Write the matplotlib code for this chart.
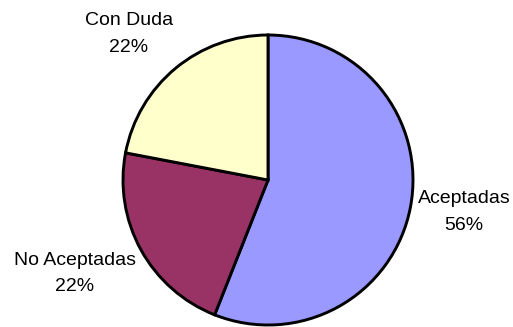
import matplotlib
matplotlib.use("Agg")
import matplotlib.pyplot as plt
import numpy as np

categories = ["Aceptadas", "No Aceptadas", "Con Duda"]
values = [56, 22, 22]
colors = ["#9999FF", "#993366", "#FFFFCC"]
label_dist = [1.37, 1.48, 1.39]
label_angle_shift = [1.5, -3, 4]

plt.rcParams['font.family'] = ['Liberation Sans', 'DejaVu Sans']

W, H = 513, 327
dpi = 100
fig = plt.figure(figsize=(W / dpi, H / dpi), dpi=dpi)
ax = fig.add_axes([0, 0, 1, 1])
cx, cy, r = 268, 180, 145

wedges, _ = ax.pie(values, colors=colors, startangle=90, counterclock=False,
                   radius=1.0, wedgeprops=dict(edgecolor='black', linewidth=2.1))
ax.set_xlim(-cx / r, (W - cx) / r)
ax.set_ylim(-(H - cy) / r, cy / r)
ax.set_aspect('auto')
ax.axis('off')

total = sum(values)
for w, cat, v, d, s in zip(wedges, categories, values, label_dist, label_angle_shift):
    mid = np.deg2rad((w.theta1 + w.theta2) / 2 + s)
    x, y = d * np.cos(mid), d * np.sin(mid)
    ax.text(x, y, f"{cat}\n{round(100 * v / total)}%", ha='center', va='center',
            fontsize=14, color='black', linespacing=1.72)

fig.savefig("out.png", dpi=dpi)
